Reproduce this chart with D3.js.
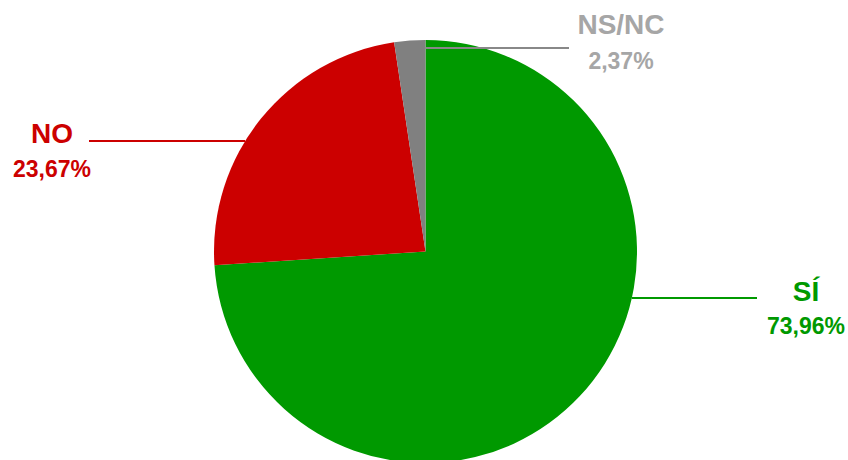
<!DOCTYPE html>
<html>
<head>
<meta charset="utf-8">
<script src="https://cdn.jsdelivr.net/npm/d3@7"></script>
<style>
  html, body { margin: 0; padding: 0; background: #fff; }
  svg { display: block; }
  text { font-family: "Liberation Sans", Arial, sans-serif; font-weight: bold; }
</style>
</head>
<body>
<svg id="chart" width="848" height="460"></svg>
<script>
// ---- data ----
const categories = ["SÍ", "NO", "NS/NC"];
const values = [73.96, 23.67, 2.37];
const valueLabels = ["73,96%", "23,67%", "2,37%"];
const sliceColors = ["#009900", "#cc0000", "#808080"];
const textColors = ["#009900", "#cc0000", "#a6a6a6"];

// ---- layout ----
const W = 848, H = 460;
const cx = 425.5, cy = 251.5, R = 211.5;
// label placements: [text center x, name baseline, pct baseline, line y, line outer x]
const labelPos = [
  { x: 806, y1: 301, y2: 334, ly: 298, lx: 757, side: "right" },
  { x: 52, y1: 143, y2: 177, ly: 141, lx: 89, side: "left" },
  { x: 621, y1: 34, y2: 69, ly: 48, lx: 569, side: "top" }
];

const svg = d3.select("#chart");
const g = svg.append("g").attr("transform", `translate(${cx},${cy})`);

const pie = d3.pie().sort(null).value(d => d)(values);
const arc = d3.arc().innerRadius(0).outerRadius(R);

g.selectAll("path.slice")
  .data(pie)
  .join("path")
  .attr("class", "slice")
  .attr("d", arc)
  .attr("fill", (d, i) => sliceColors[i]);

// connector lines
labelPos.forEach((p, i) => {
  const dy = p.ly - cy;
  let x0;
  if (p.side === "top") {
    x0 = cx + R * Math.sin(pie[i].endAngle); // slice boundary at top
  } else {
    const dx = Math.sqrt(Math.max(0, R * R - dy * dy));
    x0 = p.side === "right" ? cx + dx : cx - dx;
  }
  svg.append("line")
    .attr("x1", x0).attr("x2", p.lx)
    .attr("y1", p.ly).attr("y2", p.ly)
    .attr("stroke", i === 2 ? "#888888" : sliceColors[i])
    .attr("stroke-width", 2);
});

// labels
labelPos.forEach((p, i) => {
  svg.append("text")
    .attr("x", p.x).attr("y", p.y1)
    .attr("text-anchor", "middle")
    .attr("font-size", 28)
    .attr("fill", textColors[i])
    .text(categories[i]);
  svg.append("text")
    .attr("x", p.x).attr("y", p.y2)
    .attr("text-anchor", "middle")
    .attr("font-size", 23)
    .attr("fill", textColors[i])
    .text(valueLabels[i]);
});
</script>
</body>
</html>
